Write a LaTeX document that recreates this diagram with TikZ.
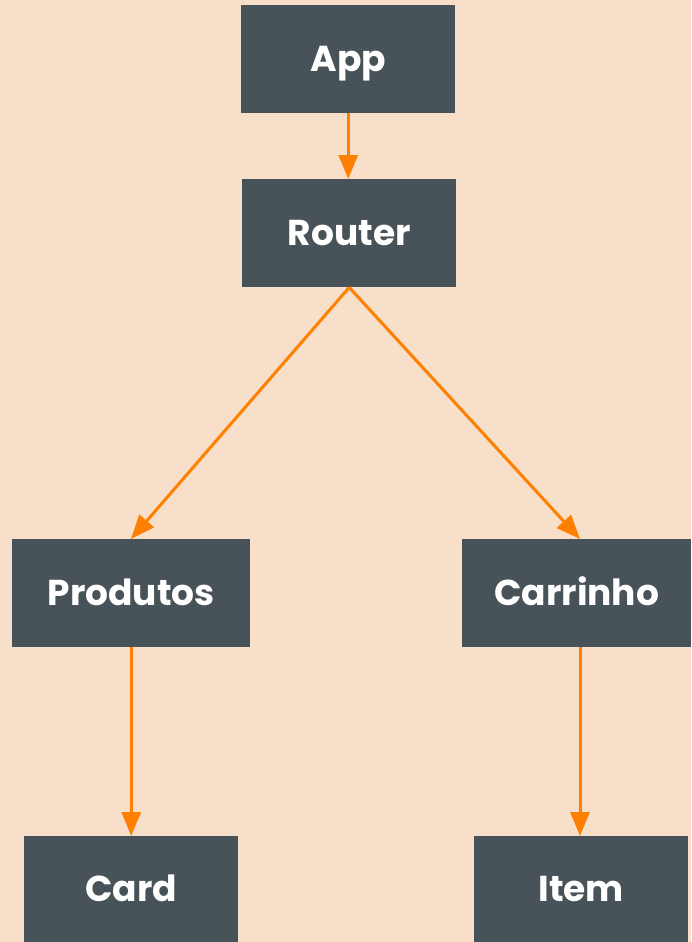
\documentclass[tikz,border=0pt]{standalone}
\usepackage{fontspec}
\setmainfont{Poppins}
\usetikzlibrary{arrows.meta}
\definecolor{bg}{HTML}{F7DFCA}
\definecolor{boxc}{HTML}{475359}
\definecolor{arr}{HTML}{FF8000}
\newcommand{\lbl}[1]{\raisebox{-12.5pt}[0pt][0pt]{#1}}
\begin{document}
\begin{tikzpicture}[x=1pt,y=-1pt,
  comp/.style={fill=boxc, text=white, font=\fontsize{36}{40}\selectfont\bfseries, inner sep=0pt, anchor=north west},
  link/.style={draw=arr, line width=3pt, -{Triangle[length=24pt,width=19pt]}}]
\fill[bg] (0,0) rectangle (691,942);
\useasboundingbox (0,0) rectangle (691,942);
\node[comp, minimum width=214pt, minimum height=108pt] (app) at (241,5) {\lbl{App}};
\node[comp, minimum width=214pt, minimum height=108pt] (router) at (242,179) {\lbl{Router}};
\node[comp, minimum width=238pt, minimum height=108pt] (prod) at (12,539) {\lbl{Produtos}};
\node[comp, minimum width=229pt, minimum height=108pt] (carr) at (462,539) {\lbl{Carrinho}};
\node[comp, minimum width=214pt, minimum height=106pt] (card) at (24,836) {\lbl{Card}};
\node[comp, minimum width=214pt, minimum height=106pt] (item) at (474,836) {\lbl{Item}};
\coordinate (pt) at (131,539);
\coordinate (ct) at (580,539);
\draw[link] (app.south) -- (router.north -| app.south);
\draw[link] (router.south) -- (pt);
\draw[link] (router.south) -- (ct);
\draw[link] (prod.south) -- (card.north -| prod.south);
\draw[link] (carr.south -| ct) -- (item.north -| ct);
\end{tikzpicture}
\end{document}
